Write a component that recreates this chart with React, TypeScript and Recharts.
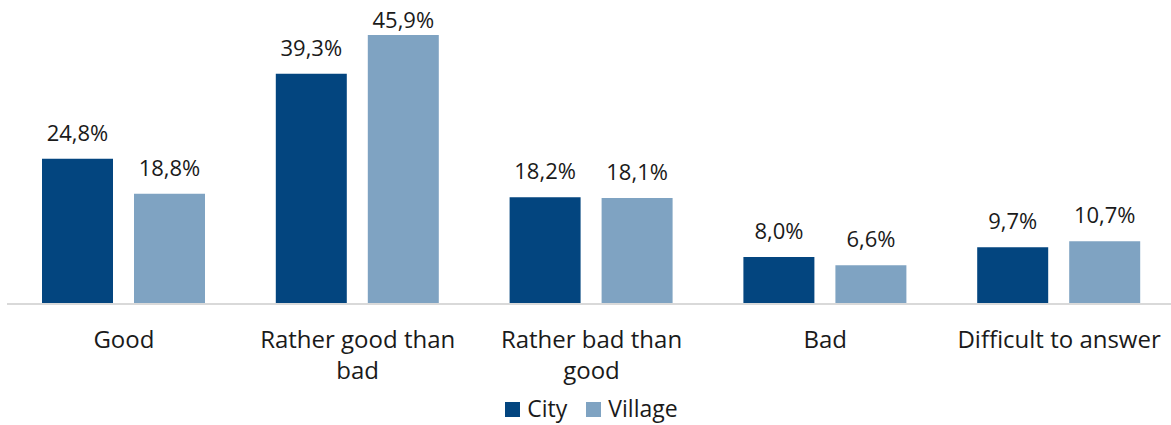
import { BarChart, Bar, XAxis, YAxis, Legend, LabelList } from 'recharts';

const categories = ['Good', 'Rather good than bad', 'Rather bad than good', 'Bad', 'Difficult to answer'];
const city = [24.8, 39.3, 18.2, 8.0, 9.7];
const village = [18.8, 45.9, 18.1, 6.6, 10.7];

const data = categories.map((name, i) => ({ name, city: city[i], village: village[i] }));

const FONT = '"Open Sans", sans-serif';
const TEXT = '#1a1a1a';

const fmt = (v: number) => `${v.toFixed(1).replace('.', ',')}%`;

const ctx = document.createElement('canvas').getContext('2d')!;

function wrap(label: string, maxWidth: number, font: string) {
  ctx.font = font;
  const lines: string[] = [];
  let cur = '';
  for (const w of label.split(' ')) {
    const next = cur ? `${cur} ${w}` : w;
    if (cur && ctx.measureText(next).width > maxWidth) {
      lines.push(cur);
      cur = w;
    } else {
      cur = next;
    }
  }
  if (cur) lines.push(cur);
  return lines;
}

function Tick(props: any) {
  const { x, y, payload } = props;
  const lines = wrap(String(payload.value), 222, `24px ${FONT}`);
  return (
    <text x={x} y={y + 36} textAnchor="middle" fontFamily={FONT} fontSize={24} fill={TEXT}>
      {lines.map((l, i) => (
        <tspan key={i} x={x} dy={i ? 31 : 0}>{l}</tspan>
      ))}
    </text>
  );
}

// value labels sit ~18px above the bar, but never get pushed off the top
function ValueLabel(props: any) {
  const { x, y, width, value } = props;
  const baseline = Math.max(y - 18, 28);
  return (
    <text x={x + width / 2} y={baseline} textAnchor="middle" fontFamily={FONT} fontSize={22} fill={TEXT}>
      {fmt(value)}
    </text>
  );
}

function LegendContent(props: any) {
  const { payload } = props;
  return (
    <div style={{ display: 'flex', justifyContent: 'center', fontFamily: FONT, fontSize: 23, color: TEXT, lineHeight: '30px' }}>
      {payload.map((p: any, i: number) => (
        <div key={p.value} style={{ display: 'flex', alignItems: 'center', marginLeft: i ? 19 : 0 }}>
          <span style={{ display: 'inline-block', width: 15, height: 15, background: p.color, marginRight: 7, marginTop: 3 }} />
          <span>{p.value}</span>
        </div>
      ))}
    </div>
  );
}

export default function App() {
  return (
    <div style={{ width: 1171, height: 425, overflow: 'hidden', position: 'relative' }}>
      <style>{`body{margin:0}`}</style>
      <BarChart
        width={1176}
        height={425}
        data={data}
        margin={{ top: 11, right: 0, left: 7, bottom: 2 }}
        barSize={71}
        barGap={21}
      >
        <XAxis
          dataKey="name"
          interval={0}
          height={89}
          tickLine={false}
          axisLine={{ stroke: '#d9d9d9', strokeWidth: 2 }}
          tick={<Tick />}
        />
        <YAxis hide domain={[0, 50]} />
        <Legend verticalAlign="bottom" height={30} content={<LegendContent />} />
        <Bar dataKey="city" name="City" fill="#03457f" isAnimationActive={false}>
          <LabelList dataKey="city" content={<ValueLabel />} />
        </Bar>
        <Bar dataKey="village" name="Village" fill="#7fa3c2" isAnimationActive={false}>
          <LabelList dataKey="village" content={<ValueLabel />} />
        </Bar>
      </BarChart>
    </div>
  );
}
